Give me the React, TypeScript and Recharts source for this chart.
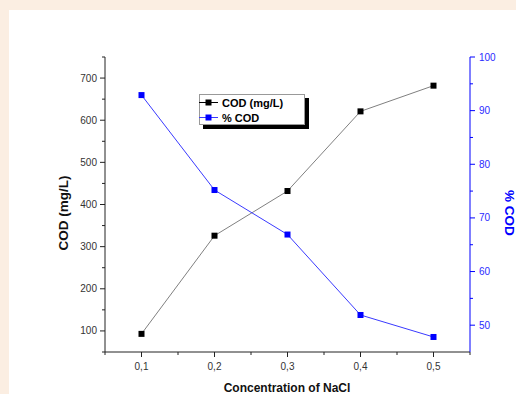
import { LineChart, Line, XAxis, YAxis, Legend, Label } from 'recharts'

const concentration = [0.1, 0.2, 0.3, 0.4, 0.5]
const codMgL = [93, 326, 432, 621, 682]
const codPercent = [92.9, 75.2, 66.9, 51.9, 47.8]

const xTicks = [0.05, 0.1, 0.15, 0.2, 0.25, 0.3, 0.35, 0.4, 0.45, 0.5, 0.55]
const leftTicks = [50, 100, 150, 200, 250, 300, 350, 400, 450, 500, 550, 600, 650, 700, 750]
const rightTicks = [50, 55, 60, 65, 70, 75, 80, 85, 90, 95, 100]

const data = concentration.map((c, i) => ({ c, cod: codMgL[i], pct: codPercent[i] }))

const FONT = '"Liberation Sans", Arial, sans-serif'
const BLUE = '#0000ff'
const BLUE_LINE = '#3a3aff'
const AXIS = '#222'

const isMajor = (v: number, step: number) => Math.abs(v / step - Math.round(v / step)) < 1e-6

function BottomTick({ x, y, payload }: any) {
  const v = payload.value
  const major = isMajor(v, 0.1)
  return (
    <g>
      <line x1={x} x2={x} y1={y} y2={y + (major ? 5 : 3)} stroke={AXIS} />
      {major && (
        <text x={x} y={y + 18} textAnchor="middle" fontSize={10} fill="#333" fontFamily={FONT}>
          {v.toFixed(1).replace('.', ',')}
        </text>
      )}
    </g>
  )
}

function TopTick({ x, y, payload }: any) {
  const major = isMajor(payload.value, 0.1)
  return <line x1={x} x2={x} y1={y} y2={y + (major ? 5 : 3)} stroke={AXIS} />
}

function LeftTick({ x, y, payload }: any) {
  const v = payload.value
  const major = isMajor(v, 100)
  return (
    <g>
      <line x1={x} x2={x - (major ? 5 : 3)} y1={y} y2={y} stroke={AXIS} />
      {major && (
        <text x={x - 8} y={y + 3.5} textAnchor="end" fontSize={10} fill="#333" fontFamily={FONT}>
          {v}
        </text>
      )}
    </g>
  )
}

function RightTick({ x, y, payload }: any) {
  const v = payload.value
  const major = isMajor(v, 10)
  return (
    <g>
      <line x1={x} x2={x + (major ? 5 : 3)} y1={y} y2={y} stroke={BLUE} />
      {major && (
        <text x={x + 9} y={y + 3.5} textAnchor="start" fontSize={10} fill="#2a2aff" fontFamily={FONT}>
          {v}
        </text>
      )}
    </g>
  )
}

const squareDot = (fill: string) => (p: any) => (
  <rect key={`d-${p.index}`} x={p.cx - 3} y={p.cy - 3} width={6} height={6} fill={fill} />
)

const legendOrder = ['cod', 'pct']
const legendLook: Record<string, { line: string; mark: string }> = {
  cod: { line: '#000', mark: '#000' },
  pct: { line: BLUE_LINE, mark: BLUE },
}

function LegendBox({ payload }: any) {
  const items = [...(payload || [])].sort(
    (a: any, b: any) => legendOrder.indexOf(a.dataKey) - legendOrder.indexOf(b.dataKey),
  )
  return (
    <div
      style={{
        width: 106,
        height: 31,
        boxSizing: 'border-box',
        border: '1px solid #999',
        background: '#fff',
        boxShadow: '4px 4px 0 #000',
        fontFamily: FONT,
        fontSize: 11,
        fontWeight: 'bold',
        color: '#000',
      }}
    >
      {items.map((item: any) => {
        const look = legendLook[item.dataKey] || { line: item.color, mark: item.color }
        return (
          <div key={item.dataKey} style={{ display: 'flex', alignItems: 'center', height: 15 }}>
            <svg width={21} height={15} style={{ marginLeft: -1, marginRight: 2 }}>
              <line x1={0} x2={19} y1={7.5} y2={7.5} stroke={look.line} />
              <rect x={6.5} y={4.5} width={6} height={6} fill={look.mark} />
            </svg>
            <span>{item.value}</span>
          </div>
        )
      })}
    </div>
  )
}

export default function App() {
  return (
    <div style={{ position: 'absolute', left: 0, top: 0, width: 516, height: 394, background: '#fbeee2', overflow: 'hidden' }}>
      <div style={{ position: 'absolute', left: 9, top: 10, width: 507, height: 384, background: '#fff' }}>
        <LineChart width={507} height={384} data={data} margin={{ top: 47, right: 0, bottom: 0, left: 0 }}>
          <XAxis
            dataKey="c"
            type="number"
            domain={[0.05, 0.55]}
            allowDataOverflow
            ticks={xTicks}
            interval={0}
            height={42}
            tickSize={0}
            tickMargin={0}
            tickLine={false}
            axisLine={{ stroke: AXIS }}
            tick={<BottomTick />}
          >
            <Label
              content={() => (
                <text x={278} y={382} textAnchor="middle" fontSize={12} fontWeight="bold" fill="#111" fontFamily={FONT}>
                  Concentration of NaCl
                </text>
              )}
            />
          </XAxis>
          <XAxis
            xAxisId="top"
            orientation="top"
            dataKey="c"
            type="number"
            domain={[0.05, 0.55]}
            allowDataOverflow
            ticks={xTicks}
            interval={0}
            height={0}
            tickSize={0}
            tickMargin={0}
            tickLine={false}
            axisLine={{ stroke: AXIS }}
            tick={<TopTick />}
          />
          <YAxis
            yAxisId="left"
            type="number"
            domain={[50, 750]}
            allowDataOverflow
            ticks={leftTicks}
            interval={0}
            width={96}
            tickSize={0}
            tickMargin={0}
            tickLine={false}
            axisLine={{ stroke: AXIS }}
            tick={<LeftTick />}
          >
            <Label
              content={() => (
                <text
                  x={59}
                  y={203}
                  transform="rotate(-90 59 203)"
                  textAnchor="middle"
                  fontSize={13.5}
                  fontWeight="bold"
                  fill="#111"
                  fontFamily={FONT}
                >
                  COD (mg/L)
                </text>
              )}
            />
          </YAxis>
          <YAxis
            yAxisId="right"
            orientation="right"
            type="number"
            domain={[45, 100]}
            allowDataOverflow
            ticks={rightTicks}
            interval={0}
            width={46}
            tickSize={0}
            tickMargin={0}
            tickLine={false}
            axisLine={{ stroke: BLUE }}
            tick={<RightTick />}
          >
            <Label
              content={() => (
                <text
                  x={496}
                  y={203}
                  transform="rotate(90 496 203)"
                  textAnchor="middle"
                  fontSize={13.5}
                  fontWeight="bold"
                  fill={BLUE}
                  fontFamily={FONT}
                >
                  % COD
                </text>
              )}
            />
          </YAxis>
          <Legend
            layout="vertical"
            align="center"
            verticalAlign="middle"
            wrapperStyle={{ left: 190, top: 84, width: 'auto', height: 'auto' }}
            content={<LegendBox />}
          />
          <Line
            yAxisId="left"
            dataKey="cod"
            name="COD (mg/L)"
            stroke="#808080"
            strokeWidth={1}
            dot={squareDot('#000')}
            activeDot={false}
            isAnimationActive={false}
          />
          <Line
            yAxisId="right"
            dataKey="pct"
            name="% COD"
            stroke={BLUE_LINE}
            strokeWidth={1}
            dot={squareDot(BLUE)}
            activeDot={false}
            isAnimationActive={false}
          />
        </LineChart>
      </div>
    </div>
  )
}
